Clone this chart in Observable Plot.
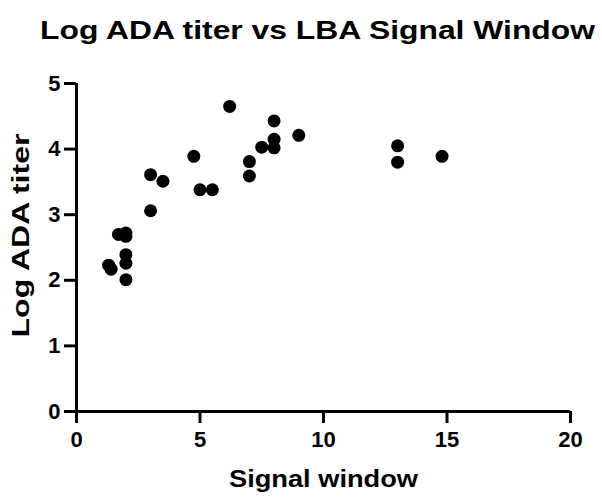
<!DOCTYPE html>
<html>
<head>
<meta charset="utf-8">
<script src="https://cdn.jsdelivr.net/npm/d3@7"></script>
<script src="https://cdn.jsdelivr.net/npm/@observablehq/plot@0.6"></script>
<style>
  html, body { margin: 0; padding: 0; background: #fff; }
  #title { height: 60px; position: relative; font-family: "Liberation Sans", Arial, sans-serif; font-weight: bold; color: #000; }
  #title span { position: absolute; left: 317px; top: 15px; font-size: 26px; line-height: 30px; white-space: nowrap; transform-origin: 0 50%; }
</style>
</head>
<body>
<div id="title"><span>Log ADA titer vs LBA Signal Window</span></div>
<div id="chart"></div>
<script>
const signalWindow = [6.2, 8.0, 9.0, 8.0, 7.5, 8.0, 4.75, 7.0, 7.0, 3.0, 3.5, 5.0, 5.5, 3.0, 1.7, 2.0, 2.0, 2.0, 2.0, 1.3, 1.4, 2.0, 13.0, 13.0, 14.8];
const logTiter    = [4.65, 4.43, 4.21, 4.15, 4.03, 4.02, 3.89, 3.81, 3.59, 3.61, 3.51, 3.38, 3.38, 3.06, 2.70, 2.72, 2.67, 2.39, 2.26, 2.23, 2.17, 2.01, 4.05, 3.80, 3.89];
const xTicks = [0, 5, 10, 15, 20];
const yTicks = [0, 1, 2, 3, 4, 5];
const xLabel = "Signal window";
const yLabel = "Log ADA titer";
const data = signalWindow.map((x, i) => ({x, y: logTiter[i]}));

const chart = Plot.plot({
  width: 602,
  height: 437,
  marginLeft: 76,
  marginRight: 32,
  marginTop: 23,
  marginBottom: 86,
  style: {fontFamily: "Liberation Sans, Arial, sans-serif", color: "#000", background: "#fff", overflow: "visible"},
  x: {domain: [0, 20]},
  y: {domain: [0, 5]},
  marks: [
    Plot.axisX({ticks: xTicks, tickFormat: "d", tickSize: 12, tickPadding: 8, strokeWidth: 3, fontSize: 22, fontWeight: "bold", label: null}),
    Plot.axisY({ticks: yTicks, tickFormat: "d", tickSize: 12, tickPadding: 4, strokeWidth: 3, fontSize: 22, fontWeight: "bold",
      label: yLabel, labelAnchor: "center", labelArrow: "none", labelOffset: 64}),
    Plot.ruleX([0], {strokeWidth: 3}),
    Plot.ruleY([0], {strokeWidth: 3}),
    Plot.dot(data, {x: "x", y: "y", r: 6.5, fill: "black", stroke: "none"}),
    Plot.text([xLabel], {frameAnchor: "bottom", dy: 75, fontSize: 23, fontWeight: "bold", lineAnchor: "bottom", className: "xlab"})
  ]
});
chart.querySelectorAll("g[aria-label='x-axis tick'], g[aria-label='y-axis tick']").forEach(g => {
  g.setAttribute("stroke-width", "3");
  g.querySelectorAll("path").forEach(p => p.setAttribute("stroke-width", "3"));
});
document.getElementById("chart").appendChild(chart);
// stretch labels along their text direction to match reference extents
const stretch = (texts, len, shift) => texts.forEach(t => {
  t.setAttribute("font-size", "23");
  t.setAttribute("font-weight", "bold");
  const L = t.getComputedTextLength();
  const tr = t.getAttribute("transform") || "";
  t.setAttribute("transform", (tr + (shift ? ` translate(${shift},0)` : "") + ` scale(${len / L},1)`).trim());
});
stretch(chart.querySelectorAll(".xlab text"), 189, 0);
const yl = [...chart.querySelectorAll("g[aria-label='y-axis label'] text")];
stretch(yl, 204, 12);
const span = document.querySelector("#title span");
const w = span.getBoundingClientRect().width;
span.style.left = (317.5 - 555 / 2) + "px";
span.style.transform = `scaleX(${555 / w})`;
</script>
</body>
</html>
